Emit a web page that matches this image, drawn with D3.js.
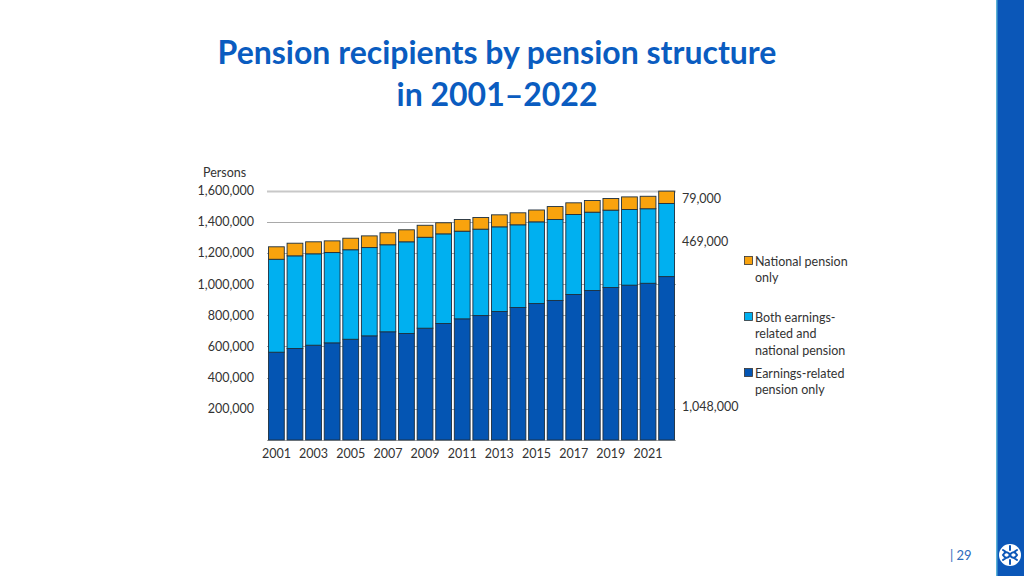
<!DOCTYPE html>
<html>
<head>
<meta charset="utf-8">
<script src="https://cdn.jsdelivr.net/npm/d3@7"></script>
<style>
  html, body { margin: 0; padding: 0; background: #fff; }
  svg { display: block; font-family: Lato, "Open Sans", sans-serif; }
</style>
</head>
<body>
<div id="Graph"></div>
<script>
// data (persons)
const years = d3.range(2001, 2023);
const earningsOnly = [563000, 587000, 608000, 623000, 646000, 668000, 694000, 683000, 717000, 747000, 777000,
                      798000, 824000, 850000, 875000, 895000, 933000, 959000, 978000, 993000, 1005000, 1048000];
const bothPensions = [596000, 594000, 586000, 579000, 574000, 566000, 558000, 588000, 583000, 575000, 562000,
                      554000, 543000, 530000, 524000, 519000, 513000, 502000, 496000, 485000, 478000, 469000];
const nationalOnly = [80000, 81000, 77000, 75000, 74000, 75000, 77000, 77000, 77000, 71000, 75000,
                      75000, 77000, 77000, 76000, 83000, 75000, 75000, 75000, 81000, 80000, 79000];
const yTicks = [200000, 400000, 600000, 800000, 1000000, 1200000, 1400000, 1600000];
const xTickYears = [2001, 2003, 2005, 2007, 2009, 2011, 2013, 2015, 2017, 2019, 2021];
const seriesKeys = ["earnings", "both", "national"];
const seriesColors = ["#0455b3", "#00b0f0", "#f9a30d"];
const legendLabels = [
  ["National pension", "only"],
  ["Both earnings-", "related and", "national pension"],
  ["Earnings-related", "pension only"]
];

const width = 1024, height = 576;
const blue = "#0a5cc0";

const svg = d3.select("#Graph").append("svg")
  .attr("width", width)
  .attr("height", height);

// title
svg.append("text")
  .attr("x", 497).attr("y", 64)
  .attr("text-anchor", "middle")
  .attr("font-size", 32).attr("font-weight", "bold")
  .attr("fill", blue)
  .text("Pension recipients by pension structure");
svg.append("text")
  .attr("x", 497).attr("y", 106)
  .attr("text-anchor", "middle")
  .attr("font-size", 32).attr("font-weight", "bold")
  .attr("fill", blue)
  .text("in 2001\u20132022");

// right side strip
svg.append("rect").attr("x", 997).attr("y", 0).attr("width", 27).attr("height", height).attr("fill", "#0b57b8");
svg.append("rect").attr("x", 996).attr("y", 0).attr("width", 1.5).attr("height", height).attr("fill", "#5bb2d6");
const logo = svg.append("g").attr("transform", "translate(1010,555)");
logo.append("circle").attr("r", 11).attr("fill", "#fff");
logo.append("path")
  .attr("d", "M-7,0 C-4,-5 -1,-2 0,0 C1,2 4,5 7,0 C4,-5 1,-2 0,0 C-1,2 -4,5 -7,0 Z M0,-9 L0,-5 M0,5 L0,9 M-7,-5 L-4,-3 M7,-5 L4,-3 M-7,5 L-4,3 M7,5 L4,3")
  .attr("fill", "none").attr("stroke", "#0b57b8").attr("stroke-width", 2).attr("stroke-linecap", "round");

// page number
svg.append("text")
  .attr("x", 950).attr("y", 560)
  .attr("font-size", 13).attr("fill", "#2d6bbd")
  .text("|  29");

// scales
const x = d3.scaleBand()
  .domain(years)
  .range([267, 676])
  .paddingInner(0.15)
  .paddingOuter(0.08);

const y = d3.scaleLinear()
  .domain([0, 1600000])
  .range([440, 190.5]);

const table = years.map((yr, i) => ({
  year: yr,
  earnings: earningsOnly[i],
  both: bothPensions[i],
  national: nationalOnly[i]
}));

const stack = d3.stack().keys(seriesKeys)(table);

// gridlines
const grid = svg.append("g");
grid.selectAll("line")
  .data([0].concat(yTicks))
  .enter().append("line")
  .attr("x1", 267).attr("x2", 676)
  .attr("y1", d => Math.round(y(d)) + 0.5)
  .attr("y2", d => Math.round(y(d)) + 0.5)
  .attr("stroke", d => d === 1600000 ? "#c8c8c8" : "#a9a9a9")
  .attr("stroke-width", d => d === 1600000 ? 2 : 1);

// y axis labels
const yAxis = svg.append("g")
  .attr("transform", "translate(267,0)")
  .call(d3.axisLeft(y)
    .tickValues(yTicks)
    .tickSize(0)
    .tickPadding(13)
    .tickFormat(d3.format(",")));
yAxis.select(".domain").remove();
yAxis.selectAll("text")
  .attr("font-family", "Lato, sans-serif")
  .attr("font-size", 12.5)
  .attr("fill", "#333");

svg.append("text")
  .attr("x", 203).attr("y", 177)
  .attr("font-size", 12.5).attr("fill", "#333")
  .text("Persons");

// x axis labels
const xAxis = svg.append("g")
  .attr("transform", "translate(0,440)")
  .call(d3.axisBottom(x)
    .tickValues(xTickYears)
    .tickSize(0)
    .tickPadding(9));
xAxis.select(".domain").remove();
xAxis.selectAll("text")
  .attr("font-family", "Lato, sans-serif")
  .attr("font-size", 12.5)
  .attr("fill", "#333");

// bars
svg.append("g")
  .selectAll("g")
  .data(stack)
  .enter().append("g")
  .attr("fill", (d, i) => seriesColors[i])
  .selectAll("rect")
  .data(d => d)
  .enter().append("rect")
  .attr("x", d => x(d.data.year))
  .attr("y", d => y(d[1]))
  .attr("width", x.bandwidth())
  .attr("height", d => y(d[0]) - y(d[1]))
  .attr("stroke", "#1d2f3f")
  .attr("stroke-width", 0.9);

// value labels for 2022
const last = table[table.length - 1];
const lastLabels = [
  { v: last.national, at: 1545000 },
  { v: last.both, at: 1268000 },
  { v: last.earnings, at: 213000 }
];
svg.append("g")
  .selectAll("text")
  .data(lastLabels)
  .enter().append("text")
  .attr("x", 682)
  .attr("y", d => y(d.at) + 4)
  .attr("font-size", 12.5)
  .attr("fill", "#333")
  .text(d => d3.format(",")(d.v));

// legend
const legendY = [261, 317, 373];
const legend = svg.append("g");
[2, 1, 0].forEach((si, li) => {
  const g = legend.append("g").attr("transform", `translate(744,${legendY[li]})`);
  g.append("rect")
    .attr("x", 0.5).attr("y", -4.5)
    .attr("width", 8).attr("height", 8)
    .attr("fill", seriesColors[si])
    .attr("stroke", "#333").attr("stroke-width", 0.8);
  g.selectAll("text")
    .data(legendLabels[li])
    .enter().append("text")
    .attr("x", 11)
    .attr("y", (d, k) => 4.5 + k * 16.8)
    .attr("font-size", 12.5)
    .attr("fill", "#333")
    .text(d => d);
});
</script>
</body>
</html>
